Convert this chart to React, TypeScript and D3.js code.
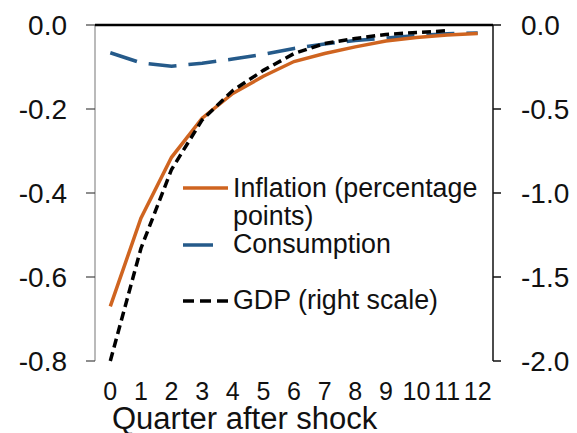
import React from "react";
import * as d3 from "d3";

const quarters = [0, 1, 2, 3, 4, 5, 6, 7, 8, 9, 10, 11, 12];
const inflation = [-0.67, -0.46, -0.315, -0.222, -0.163, -0.122, -0.087, -0.068, -0.052, -0.038, -0.03, -0.024, -0.02];
const consumption = [-0.066, -0.09, -0.098, -0.091, -0.081, -0.07, -0.056, -0.045, -0.037, -0.031, -0.025, -0.021, -0.019];
const gdp = [-2.0, -1.33, -0.86, -0.565, -0.39, -0.27, -0.17, -0.11, -0.08, -0.056, -0.045, -0.034];
const leftTicks = [0, -0.2, -0.4, -0.6, -0.8];
const rightTicks = [0, -0.5, -1.0, -1.5, -2.0];
const legendItems = ["Inflation (percentage", "points)", "Consumption", "GDP (right scale)"];
const xTitle = "Quarter after shock";

const ORANGE = "#CF6420";
const BLUE = "#255A8A";
const FONT = "'Liberation Sans', Arial, sans-serif";

export default function App() {
  const W = 577, H = 433;
  const left = 95, right = 493, top = 25, bottom = 361;
  const x = d3.scalePoint<number>().domain(quarters).range([left, right]).padding(0.5);
  const yL = d3.scaleLinear().domain([-0.8, 0]).range([bottom, top]);
  const yR = d3.scaleLinear().domain([-2, 0]).range([bottom, top]);

  const lineL = d3.line<number>().x((_, i) => x(quarters[i])!).y((d) => yL(d));
  const lineR = d3.line<number>().x((_, i) => x(quarters[i])!).y((d) => yR(d));

  return (
    <svg width={W} height={H} style={{ position: "absolute", left: 0, top: 0, background: "#fff" }} fontFamily={FONT}>
      {/* left axis */}
      <line x1={left} x2={left} y1={top} y2={bottom} stroke="#8c8c8c" strokeWidth={1.2} />
      {leftTicks.map((t) => (
        <g key={"l" + t}>
          <line x1={left - 9} x2={left} y1={yL(t)} y2={yL(t)} stroke="#444" strokeWidth={1.2} />
          <text x={67} y={yL(t)} dy="0.36em" textAnchor="end" fontSize={28} fill="#111">
            {t.toFixed(1)}
          </text>
        </g>
      ))}
      {/* right axis */}
      <line x1={right} x2={right} y1={top} y2={bottom} stroke="#111" strokeWidth={1.5} />
      {rightTicks.map((t) => (
        <g key={"r" + t}>
          <line x1={right} x2={right + 8} y1={yR(t)} y2={yR(t)} stroke="#111" strokeWidth={1.5} />
          <text x={521} y={yR(t)} dy="0.36em" textAnchor="start" fontSize={28} fill="#111">
            {t.toFixed(1)}
          </text>
        </g>
      ))}
      {/* zero line */}
      <line x1={left} x2={right} y1={yL(0)} y2={yL(0)} stroke="#000" strokeWidth={2.5} />
      {/* x labels */}
      {quarters.map((q) => (
        <text key={"x" + q} x={x(q)!} y={400} textAnchor="middle" fontSize={25} fill="#111">
          {q}
        </text>
      ))}
      <text x={112} y={429} fontSize={31} fill="#111">{xTitle}</text>

      {/* series */}
      <path d={lineL(consumption)!} fill="none" stroke={BLUE} strokeWidth={3.5} strokeDasharray="28,12" />
      <path d={lineL(inflation)!} fill="none" stroke={ORANGE} strokeWidth={3.5} />
      <path d={lineR(gdp)!} fill="none" stroke="#000" strokeWidth={3.5} strokeDasharray="9,5" />

      {/* legend */}
      <line x1={183} x2={228} y1={188} y2={188} stroke={ORANGE} strokeWidth={3.5} />
      <text x={233} y={197} fontSize={26.8} fill="#111">{legendItems[0]}</text>
      <text x={233} y={225} fontSize={26.8} fill="#111">{legendItems[1]}</text>
      <line x1={183} x2={213} y1={245} y2={245} stroke={BLUE} strokeWidth={3.5} />
      <text x={233} y={253} fontSize={26.8} fill="#111">{legendItems[2]}</text>
      <line x1={183} x2={228} y1={301} y2={301} stroke="#000" strokeWidth={3.5} strokeDasharray="11,6" />
      <text x={233} y={309} fontSize={26.8} fill="#111">{legendItems[3]}</text>
    </svg>
  );
}
